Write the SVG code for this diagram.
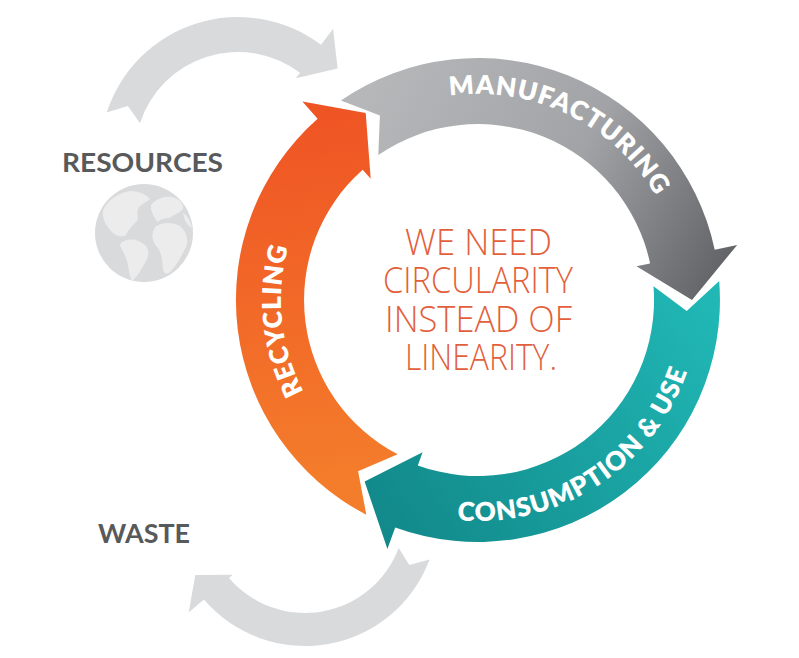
<svg xmlns="http://www.w3.org/2000/svg" width="799" height="658" viewBox="0 0 799 658">
<defs>
<linearGradient id="gGrey" gradientUnits="userSpaceOnUse" x1="360" y1="110" x2="705" y2="295">
<stop offset="0" stop-color="#b6b7b9"/><stop offset="0.55" stop-color="#a2a3a6"/><stop offset="1" stop-color="#646568"/>
</linearGradient>
<linearGradient id="gTeal" gradientUnits="userSpaceOnUse" x1="700" y1="290" x2="380" y2="520">
<stop offset="0" stop-color="#20b7b5"/><stop offset="1" stop-color="#12898a"/>
</linearGradient>
<linearGradient id="gOrange" gradientUnits="userSpaceOnUse" x1="380" y1="480" x2="340" y2="105">
<stop offset="0" stop-color="#f47d2b"/><stop offset="1" stop-color="#ef5424"/>
</linearGradient>
<path id="pManu" d="M 375.0 121.6 A 206 206 0 0 1 682.0 271.3"/>
<path id="pCons" d="M 377.7 496.9 A 221 221 0 0 0 698.7 288.4"/>
<path id="pRecy" d="M 397.9 480.0 A 197 197 0 0 1 362.2 140.6"/>
<style>
.band{font-family:Lato,"Open Sans","Liberation Sans",sans-serif;font-weight:800;font-size:26px;fill:#ffffff}
.lbl{font-family:Lato,"Open Sans","Liberation Sans",sans-serif;font-weight:700;font-size:26px;fill:#58595b}
.ctr{font-family:"Open Sans",Lato,"Liberation Sans",sans-serif;font-weight:300;font-size:36px;fill:#e35f3c;text-anchor:middle}
.side{fill:#d9dadb}
.land{fill:#ececed}
</style>
</defs>
<rect width="799" height="658" fill="#ffffff"/>

<g id="connectors">
<path class="side" d="M 106.7 112.4 A 138 138 0 0 1 321.0 44.8 L 333.1 28.8 L 337.6 68.4 L 295.8 78.3 L 300.0 72.7 A 103 103 0 0 0 140.0 123.2 L 127.9 106.0 Z"/>
<path class="side" d="M 429.6 559.6 A 133 133 0 0 1 203.9 599.4 L 188.7 612.4 L 195.3 575.0 L 232.8 574.7 L 229.0 577.9 A 100 100 0 0 0 398.7 548.0 L 409.3 565.0 Z"/>
</g>

<g id="manufacturing">
<path fill="url(#gGrey)" d="M 340.9 100.6 A 242 242 0 0 1 714.7 249.7 L 737.2 244.9 L 692 300 L 636.5 266.3 L 650.1 263.4 A 176 176 0 0 0 378.3 155.0 L 379.9 115.5 Z"/>
<text class="band" letter-spacing="1"><textPath href="#pManu" startOffset="50%" text-anchor="middle">MANUFACTURING</textPath></text>
</g>

<g id="consumption">
<path fill="url(#gTeal)" d="M 719.2 281.0 A 242 242 0 0 1 395.2 527.4 L 387.4 549.0 L 364.6 481.5 L 422.6 452.2 L 417.8 465.4 A 176 176 0 0 0 653.5 286.2 L 686.7 310.9 Z"/>
<text class="band" letter-spacing="1"><textPath href="#pCons" startOffset="50%" text-anchor="middle">CONSUMPTION &amp; USE</textPath></text>
</g>

<g id="recycling">
<path fill="url(#gOrange)" d="M 366.3 514.7 A 242 242 0 0 1 317.6 118.7 L 302.4 101.5 L 365.7 113.1 L 370.7 178.7 L 362.7 169.7 A 174 174 0 0 0 397.7 454.3 L 358.1 471.2 Z"/>
<text class="band" letter-spacing="0.8"><textPath href="#pRecy" startOffset="50%" text-anchor="middle">RECYCLING</textPath></text>
</g>

<g id="message">
<text class="ctr" x="478.5" y="255" textLength="147" lengthAdjust="spacingAndGlyphs">WE NEED</text>
<text class="ctr" x="478" y="293" textLength="190" lengthAdjust="spacingAndGlyphs">CIRCULARITY</text>
<text class="ctr" x="478.5" y="332" textLength="187" lengthAdjust="spacingAndGlyphs">INSTEAD OF</text>
<text class="ctr" x="481" y="370" textLength="152" lengthAdjust="spacingAndGlyphs">LINEARITY.</text>
</g>

<g id="resources">
<text class="lbl" x="62" y="172" textLength="161" lengthAdjust="spacingAndGlyphs">RESOURCES</text>
<g id="globe">
<circle cx="144" cy="233" r="49" fill="#d9dadb"/>
<path class="land" d="M 103 210 C 108 200 118 193 130 191 C 138 191 146 194 150 199 C 146 203 140 204 138 209 C 136 214 140 218 136 222 C 132 226 128 230 126 235 C 122 238 116 236 112 232 C 107 227 104 222 103 216 Z"/>
<path class="land" d="M 124 241 C 131 238 139 240 145 245 C 150 250 149 257 145 263 C 141 270 137 277 132 281 C 129 276 129 268 127 261 C 125 254 121 249 120 245 C 120 243 122 242 124 241 Z"/>
<path class="land" d="M 151 205 C 156 199 164 196 172 197 C 179 199 184 203 183 209 C 180 213 175 214 171 217 C 166 219 161 218 158 222 C 155 219 152 214 151 209 Z"/>
<path class="land" d="M 155 227 C 162 222 172 222 180 226 C 186 231 189 239 186 247 C 182 255 178 263 172 270 C 168 275 164 275 163 269 C 162 261 162 254 158 248 C 153 243 150 236 155 227 Z"/>
<path class="land" d="M 183 213 C 188 216 191 222 192 228 C 188 226 184 221 183 213 Z"/>
</g>
</g>

<g id="waste">
<text class="lbl" x="98" y="543" textLength="92" lengthAdjust="spacingAndGlyphs">WASTE</text>
</g>
</svg>
